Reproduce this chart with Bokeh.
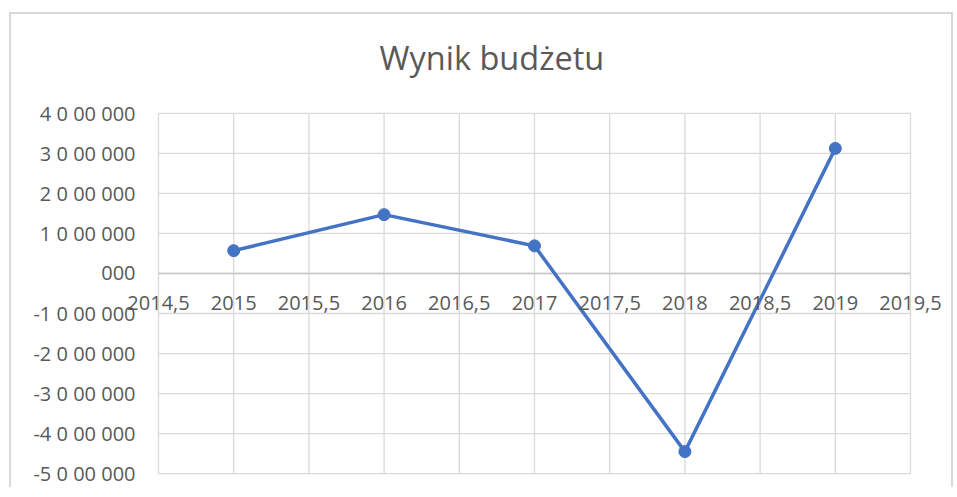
from bokeh.plotting import figure
from bokeh.models import Range1d, Title
from bokeh.core.properties import value
from bokeh.embed import file_html
from bokeh.resources import INLINE

# Data
years = [2015, 2016, 2017, 2018, 2019]
values = [570000, 1470000, 690000, -4450000, 3125000]

x_ticks = [2014.5, 2015, 2015.5, 2016, 2016.5, 2017, 2017.5, 2018, 2018.5, 2019, 2019.5]
x_labels = ["2014,5", "2015", "2015,5", "2016", "2016,5", "2017", "2017,5", "2018", "2018,5", "2019", "2019,5"]
y_ticks = [-5000000, -4000000, -3000000, -2000000, -1000000, 0, 1000000, 2000000, 3000000, 4000000]
y_labels = ["-5 0 00 000", "-4 0 00 000", "-3 0 00 000", "-2 0 00 000", "-1 0 00 000", "000",
            "1 0 00 000", "2 0 00 000", "3 0 00 000", "4 0 00 000"]

TEXT = "#595959"
GRID = "#d9d9d9"
ZERO = "#c8c8c8"
BLUE = "#4472C4"
FONT = "Open Sans"

# layout (pixels): figure size, frame top, and where the plot area sits inside the frame
W, H, TOP = 944, 475, 80
PX_L, PX_R = 147, 899          # plot-area left/right inside frame
PY_T, PY_B = 16, 379           # plot-area top/bottom inside frame
FH = H - TOP

x0, x1 = x_ticks[0], x_ticks[-1]
y0, y1 = y_ticks[0], y_ticks[-1]
kx = (x1 - x0) / (PX_R - PX_L)
ky = (y1 - y0) / (PY_B - PY_T)

p = figure(width=W, height=H, output_backend="svg", toolbar_location=None,
           x_range=Range1d(x0 - PX_L * kx, x1 + (W - PX_R) * kx),
           y_range=Range1d(y0 - (FH - PY_B) * ky, y1 + PY_T * ky),
           min_border_left=0, min_border_right=0, min_border_top=TOP, min_border_bottom=0,
           background_fill_color="white", border_fill_color="white")
p.styles = {"margin-left": "9px", "margin-top": "12px",
            "border-left": "2px solid #d9d9d9", "border-top": "2px solid #d9d9d9",
            "border-right": "2px solid #d9d9d9"}
p.outline_line_color = None
p.axis.visible = False
p.grid.visible = False

p.add_layout(Title(text="Wynik budżetu", align="left", text_font_size="32.5px",
                   text_font=FONT, text_color=TEXT, text_font_style="normal",
                   standoff=36, offset=368), "above")

# gridlines
p.segment(x0=x_ticks, y0=[y0] * len(x_ticks), x1=x_ticks, y1=[y1] * len(x_ticks),
          line_color=GRID, line_width=1.3)
p.segment(x0=[x0] * len(y_ticks), y0=y_ticks, x1=[x1] * len(y_ticks), y1=y_ticks,
          line_color=GRID, line_width=1.3)
p.segment(x0=[x0], y0=[0], x1=[x1], y1=[0], line_color=ZERO, line_width=1.3)

# series
p.line(years, values, line_color=BLUE, line_width=3.5)
p.scatter(years, values, size=12, fill_color=BLUE, line_color=BLUE)

# tick labels
p.text(x=[x0] * len(y_ticks), y=y_ticks, text=y_labels, text_align="right",
       text_baseline="middle", x_offset=-23, text_font=value(FONT),
       text_font_size="20px", text_color=TEXT)
p.text(x=x_ticks, y=[0] * len(x_ticks), text=x_labels, text_align="center",
       text_baseline="top", y_offset=23, text_font=value(FONT),
       text_font_size="20px", text_color=TEXT)

open("out.html", "w").write(file_html(p, INLINE))
